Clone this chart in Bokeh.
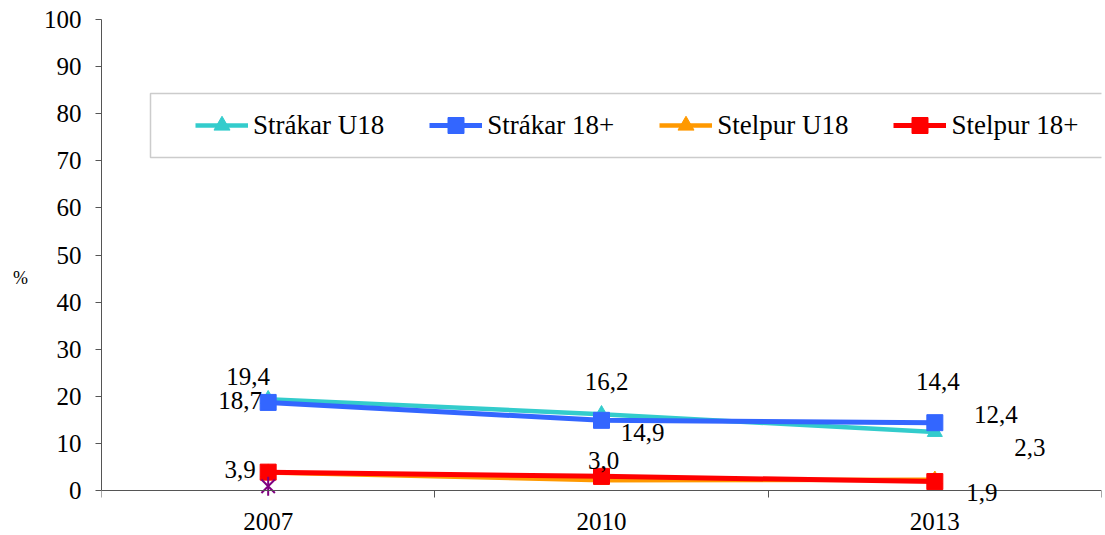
from bokeh.plotting import figure
from bokeh.models import (Range1d, FixedTicker, Legend, LegendItem, BoxAnnotation,
                          ColumnDataSource, LabelSet)
from bokeh.core.properties import value
from bokeh.embed import file_html
from bokeh.resources import INLINE

# ---- data ----
years = ["2007", "2010", "2013"]
strakar_u18 = [19.4, 16.2, 12.4]
strakar_18 = [18.7, 14.9, 14.4]
stelpur_u18 = [3.8, 2.2, 2.3]
stelpur_18 = [3.9, 3.0, 1.9]
hidden_series = [0.9, None, None]
series_names = ["Strákar U18", "Strákar 18+", "Stelpur U18", "Stelpur 18+"]
y_ticks = [0, 10, 20, 30, 40, 50, 60, 70, 80, 90, 100]
y_unit = "%"

# which data labels are shown: (series index, year index)
shown_labels = [(0, 0), (1, 0), (3, 0), (0, 1), (1, 1), (3, 1), (1, 2), (0, 2), (2, 2), (3, 2)]
# pixel offsets of each shown label (style; screen pixels, y up)
label_dx = [-20, -28, -28, 5, 41, 2, 3, 61, 95, 47]
label_dy = [23, 2, 3, 33, -12, 16, 41, 18, 32, -11]

FONT = "Liberation Serif"
xs = [i + 0.5 for i in range(len(years))]

# layout in pixels
W, H = 1104, 535
TOP, ZERO_PX = 19, 490
below_px = H - ZERO_PX
y_lo = -below_px * 100.0 / (ZERO_PX - TOP)

p = figure(width=W, height=H, output_backend="svg", toolbar_location=None,
           x_range=Range1d(0, len(years)), y_range=Range1d(y_lo, 100),
           min_border_left=101, min_border_right=3, min_border_top=TOP, min_border_bottom=0)
p.outline_line_color = None
p.xgrid.grid_line_color = None
p.ygrid.grid_line_color = None

# legend frame (drawn behind the legend)
box = BoxAnnotation(left=49, right=1003, top=397 + below_px, bottom=333 + below_px,
                    left_units="screen", right_units="screen",
                    top_units="screen", bottom_units="screen",
                    fill_color="white", fill_alpha=1.0,
                    line_color="#555555", line_width=1.5)
p.add_layout(box)

colors = ["#33CCCC", "#3366FF", "#FF9900", "#FF0000"]
markers = ["triangle", "square", "triangle", "square"]
msizes = [15, 16, 15, 16]
lwidths = [4.5, 5, 4.5, 5]
all_series = [strakar_u18, strakar_18, stelpur_u18, stelpur_18]

items = []
for name, vals, c, m, ms, lw in zip(series_names, all_series, colors, markers, msizes, lwidths):
    r1 = p.line(xs, vals, line_color=c, line_width=lw)
    r2 = p.scatter(xs, vals, marker=m, size=ms, fill_color=c, line_color=c)
    items.append(LegendItem(label=name, renderers=[r1, r2]))

hx = [x for x, v in zip(xs, hidden_series) if v is not None]
hy = [v for v in hidden_series if v is not None]
p.scatter(hx, hy, marker="x", size=19, line_color="#800080", line_width=2)
p.scatter(hx, hy, marker="dash", angle=1.5708, size=19, line_color="#800080", line_width=2)

# data labels
lab_x, lab_y, lab_t = [], [], []
for si, yi in shown_labels:
    v = all_series[si][yi]
    lab_x.append(xs[yi])
    lab_y.append(v)
    lab_t.append(f"{v:.1f}".replace(".", ","))
src = ColumnDataSource(dict(x=lab_x, y=lab_y, text=lab_t, dx=label_dx, dy=label_dy))
labels = LabelSet(x="x", y="y", text="text", x_offset="dx", y_offset="dy", source=src,
                  text_font=value(FONT), text_font_size="25px", text_color="black",
                  text_align="center", text_baseline="middle")
p.add_layout(labels)

legend = Legend(items=items, orientation="horizontal", location=(92, 343 + below_px),
                padding=2, margin=0, spacing=45, label_standoff=5,
                glyph_width=53, glyph_height=40,
                border_line_alpha=0, background_fill_alpha=0,
                label_text_font=FONT, label_text_font_size="27px",
                label_text_color="black")
p.add_layout(legend, "center")

# axes
axis_color = "#555555"
xa = p.xaxis[0]
xa.fixed_location = 0
xa.ticker = FixedTicker(ticks=xs, minor_ticks=list(range(len(years) + 1)))
xa.major_label_overrides = {x: y for x, y in zip(xs, years)}
xa.major_tick_out = 0
xa.major_tick_in = 0
xa.minor_tick_out = 7
xa.minor_tick_in = 0
xa.major_label_standoff = 15
xa.major_label_text_font = FONT
xa.major_label_text_font_size = "25px"
xa.major_label_text_color = "black"
xa.axis_line_color = axis_color
xa.minor_tick_line_color = axis_color

ya = p.yaxis[0]
ya.bounds = (0, 100)
ya.ticker = FixedTicker(ticks=y_ticks, minor_ticks=[])
ya.major_tick_out = 6
ya.major_tick_in = 0
ya.major_label_standoff = 14
ya.major_label_text_font = FONT
ya.major_label_text_font_size = "25px"
ya.major_label_text_color = "black"
ya.axis_line_color = axis_color
ya.major_tick_line_color = axis_color
ya.axis_label = y_unit
ya.axis_label_text_font = FONT
ya.axis_label_text_font_size = "18px"
ya.axis_label_text_font_style = "normal"
ya.axis_label_text_color = "black"
ya.axis_label_standoff = 13
try:
    ya.axis_label_orientation = "horizontal"
except Exception:
    pass

open("out.html", "w").write(file_html(p, INLINE))
